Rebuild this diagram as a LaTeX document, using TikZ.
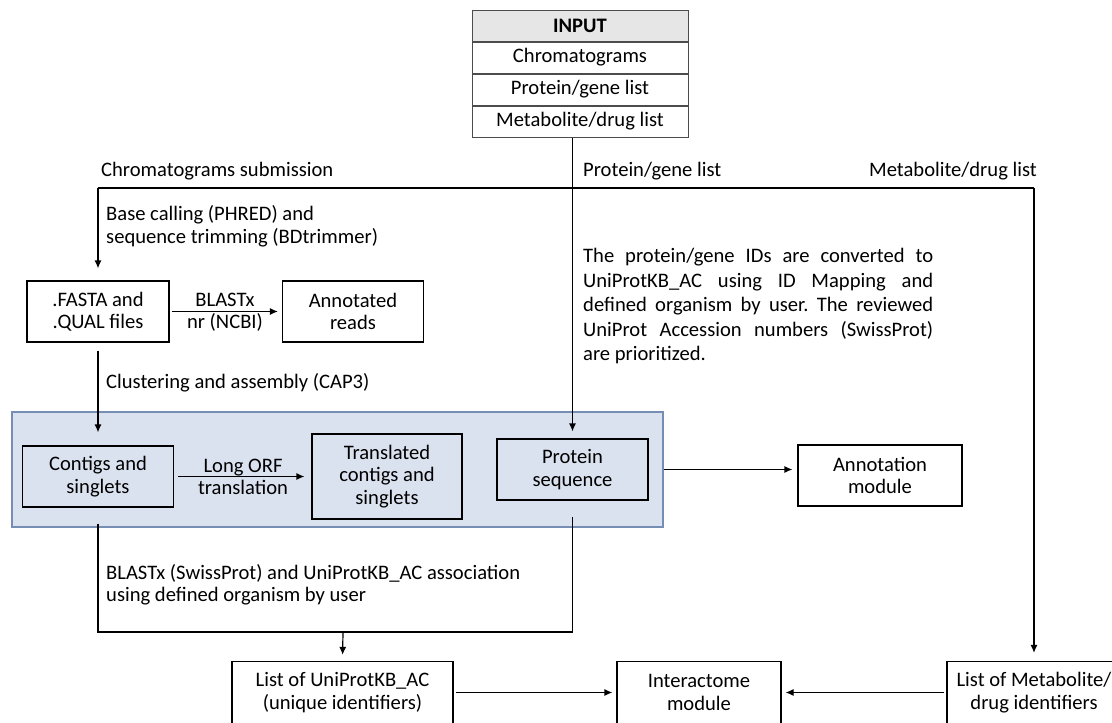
\documentclass[tikz,border=0pt]{standalone}
\usepackage{fontspec}
\setmainfont{Carlito}
\usepackage{tikz}
\usetikzlibrary{arrows.meta, positioning}

\definecolor{groupfill}{RGB}{219,226,239}
\definecolor{groupline}{RGB}{118,142,180}
\definecolor{headfill}{RGB}{230,230,230}

\frenchspacing

\begin{document}
\begin{tikzpicture}[
  x=1pt, y=-1pt,
  font=\fontsize{20.6}{22.5}\selectfont,
  >={Latex[length=8pt,width=7pt]},
  box/.style={draw=black, line width=1.2pt, align=center, inner sep=2pt,
              minimum height=61pt},
  cell/.style={draw=black!70, line width=1pt, minimum width=216pt,
               minimum height=31pt, inner sep=0pt},
  group/.style={draw=groupline, line width=2.5pt, fill=groupfill},
  arrow/.style={->, line width=1.2pt},
  line/.style={line width=1.2pt},
  label/.style={align=left, inner sep=0pt}
]
\useasboundingbox (0,0) rectangle (1112,723);

%% ── Entrée ──────────────────────────────────────────────────────
\node[cell, fill=headfill, font=\fontsize{20.6}{22.5}\selectfont\bfseries]
  (inhead) at (580,25.5) {INPUT};
\node[cell, below=0pt of inhead] (inchrom) {Chromatograms};
\node[cell, below=0pt of inchrom] (inprot) {Protein/gene list};
\node[cell, below=0pt of inprot] (inmeta) {Metabolite/drug list};

\coordinate (busL) at (98,188);
\coordinate (busR) at (1034,188);
\coordinate (jn) at (343,632);

%% ── Noeuds ──────────────────────────────────────────────────────
\node[box, minimum width=142pt] (fasta) at (98,311.5) {.FASTA and\\.QUAL files};
\node[box, minimum width=141pt] (annot) at (353,311.5) {Annotated\\reads};

\node[group, minimum width=651pt, minimum height=115pt] (cluster) at (337.5,469.5) {};
\node[box, minimum width=151pt] (contigs) at (98,476.5) {Contigs and\\singlets};
\node[box, minimum width=150pt, minimum height=85pt] (trans) at (387,476.5)
  {Translated\\contigs and\\singlets};
\node[box, minimum width=151pt] (protseq) at (572.5,469.5) {Protein\\sequence};

\node[box, minimum width=164pt] (annotmod) at (880,475.5) {Annotation\\module};

\node[box, minimum width=221pt, minimum height=62pt] (uniprot) at (342.5,692.5)
  {List of UniProtKB\_AC\\(unique identifiers)};
\node[box, minimum width=164pt, minimum height=62pt] (interact) at (699,692.5)
  {Interactome\\module};
\node[box, minimum width=174pt, minimum height=62pt] (metab) at (1034,692.5)
  {List of Metabolite/\\drug identifiers};

%% ── Annotations ─────────────────────────────────────────────────
\node[label, anchor=west] (lchrom) at (101,171) {Chromatograms submission};
\node[label, anchor=west] (lprot) at (583,171) {Protein/gene list};
\node[label, anchor=east] (lmeta) at (1037,171) {Metabolite/drug list};
\node[label, anchor=west] (lbase) at (106,226)
  {Base calling (PHRED) and\\sequence trimming (BDtrimmer)};
\node[label, align=center] (lblast) at (225,312) {BLASTx\\nr (NCBI)};
\node[label, anchor=west] (lcap) at (106,383) {Clustering and assembly (CAP3)};
\node[label, align=center] (lorf) at (243,477) {Long ORF\\translation};
\node[label, anchor=west, text width=350pt, align=justify,
  font=\fontsize{20.6}{24.5}\selectfont] (lmap) at (583,306.5)
  {The protein/gene IDs are converted to\linebreak
   UniProtKB\_AC using ID Mapping and\linebreak
   defined organism by user. The reviewed\linebreak
   UniProt Accession numbers (SwissProt)\linebreak
   are prioritized.};
\node[label, anchor=west] (lswiss) at (106,584.5)
  {BLASTx (SwissProt) and UniProtKB\_AC association\\using defined organism by user};

%% ── Flèches ─────────────────────────────────────────────────────
\draw[line] (busL) -- (busR);
\draw[arrow, shorten >=12pt] (busL) -- (fasta.north);
\draw[arrow, shorten >=8pt] (busR) -- (metab.north);
\draw[arrow, shorten >=7pt] (inmeta.south -| protseq) -- (protseq.north);

\draw[arrow, shorten <=2pt, shorten >=4pt] (fasta.east) -- (annot.west);
\draw[arrow, shorten <=8pt, shorten >=13pt] (fasta.south) -- (contigs.north);
\draw[arrow, shorten <=4pt, shorten >=7pt] (contigs.east) -- (trans.west);
\draw[arrow, shorten >=5pt] (protseq.east -| cluster.east) -- (protseq.east -| annotmod.west);

\draw[line, shorten <=16pt, shorten >=16pt]
  (contigs.south) -- (contigs.south |- jn) -- (protseq.south |- jn) -- (protseq.south);
\draw[arrow, shorten >=6pt] (jn) -- (uniprot.north);

\draw[arrow, shorten <=2pt, shorten >=4pt] (uniprot.east) -- (interact.west);
\draw[arrow, shorten <=2pt, shorten >=4pt] (metab.west) -- (interact.east);

\end{tikzpicture}
\end{document}
